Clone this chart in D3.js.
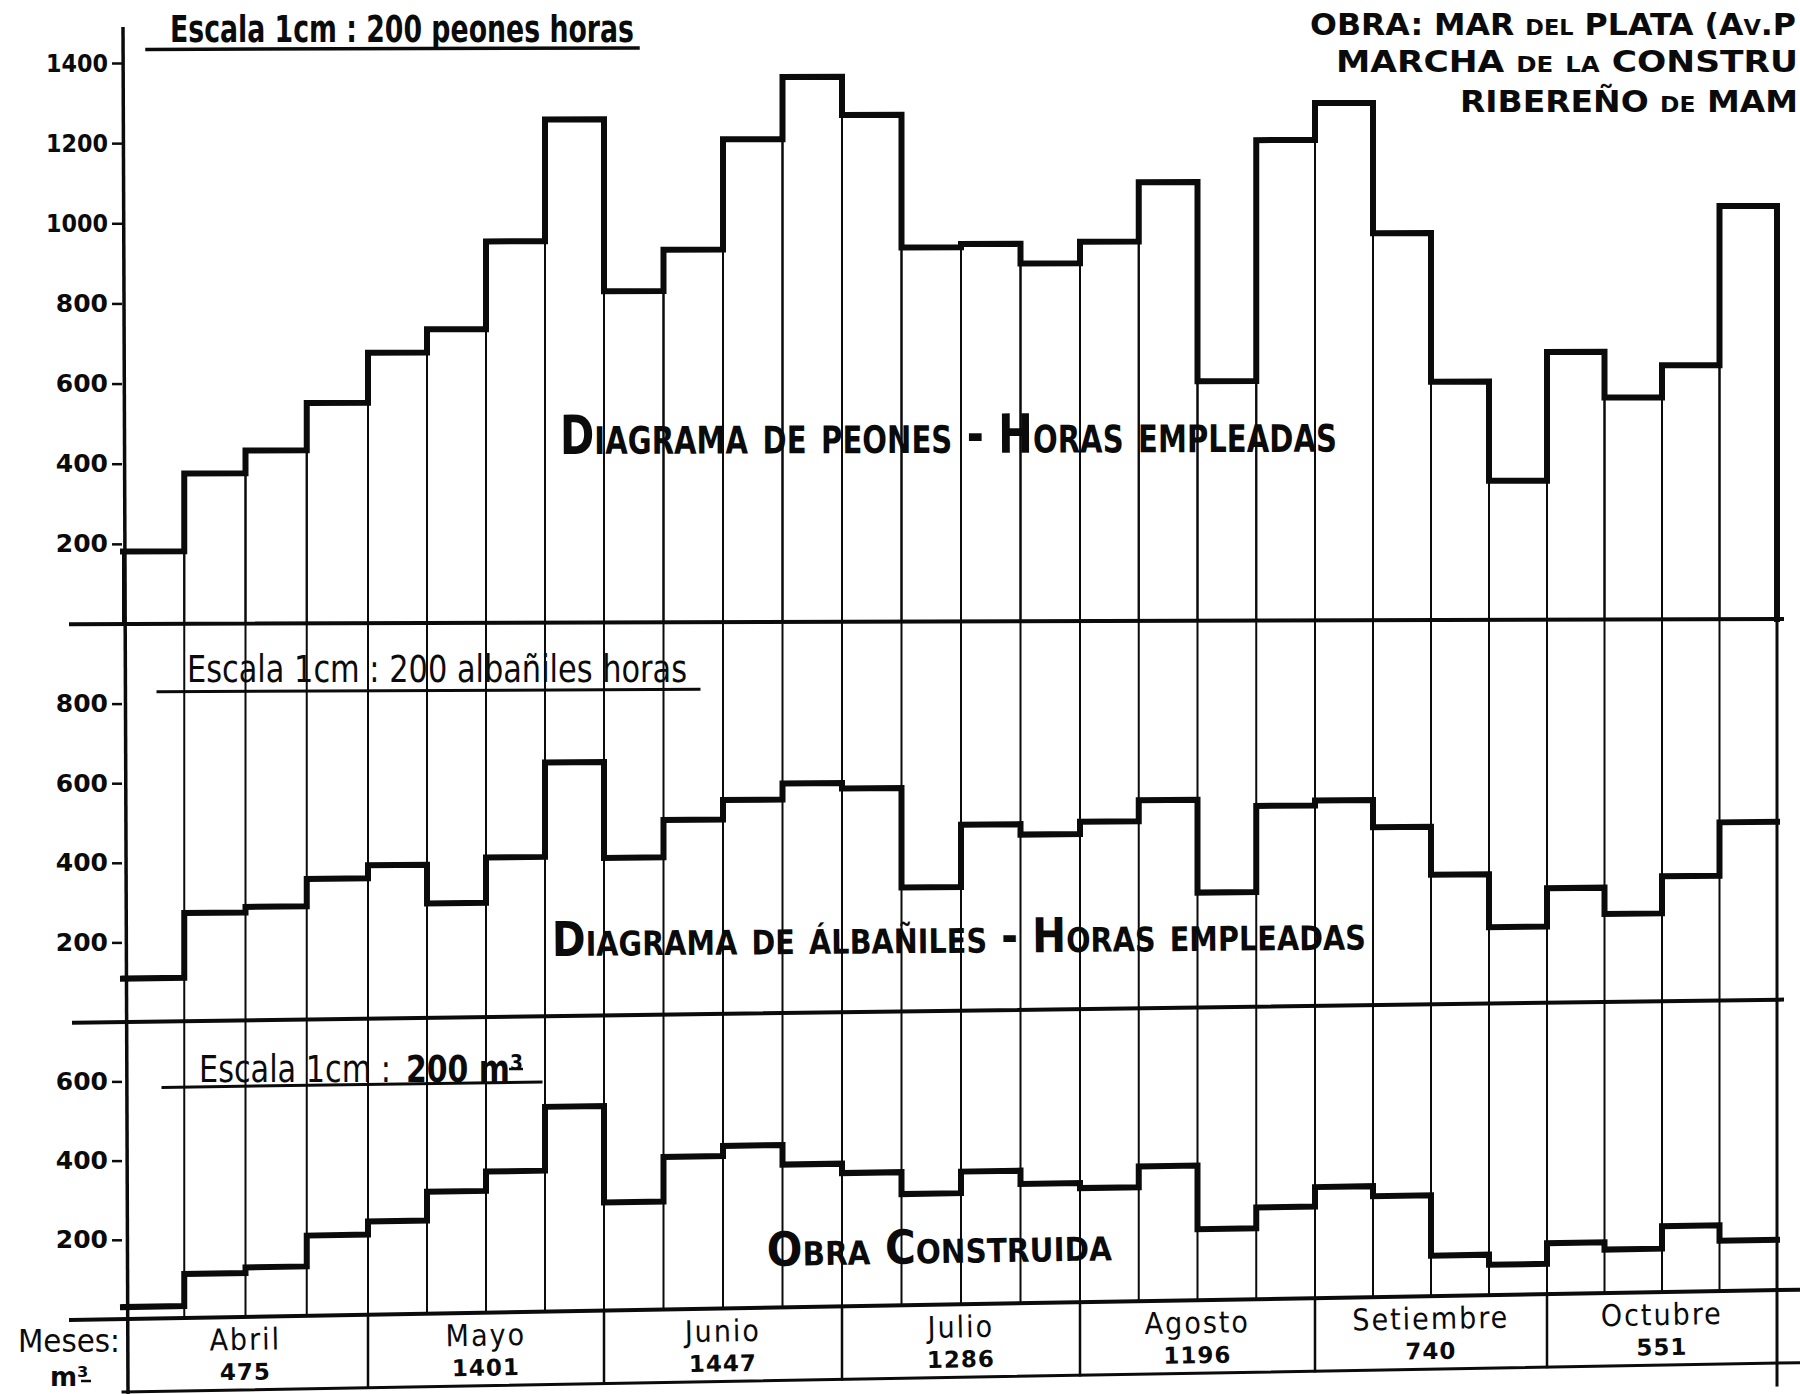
<!DOCTYPE html>
<html>
<head>
<meta charset="utf-8">
<script src="https://cdn.jsdelivr.net/npm/d3@7/dist/d3.min.js"></script>
<style>
  html, body { margin:0; padding:0; background:#fff; }
  svg { display:block; background:#fff; }
</style>
</head>
<body>
<svg id="chart" width="1800" height="1394" viewBox="0 0 1800 1394"></svg>
<script>
// ---------------- data ----------------
const months = ["Abril", "Mayo", "Junio", "Julio", "Agosto", "Setiembre", "Octubre"];
const monthTotals = [475, 1401, 1447, 1286, 1196, 740, 551];

// weekly values (4 weeks per month)
const peones = [181, 375, 432, 550, 675, 733, 952, 1256,
                827, 930, 1205, 1360, 1265, 934, 942, 893,
                947, 1095, 598, 1199, 1291, 966, 595, 347,
                668, 554, 634, 1031];
const albaniles = [109, 272, 286, 355, 388, 290, 405, 645,
                   401, 496, 546, 587, 573, 318, 478, 451,
                   483, 537, 297, 520, 533, 462, 337, 199,
                   299, 230, 327, 467];
const obra = [30, 111, 125, 203, 236, 309, 358, 520,
              275, 388, 414, 364, 340, 284, 339, 305,
              292, 345, 182, 235, 285, 259, 104, 78,
              131, 112, 170, 130];

const peonesTicks = [200, 400, 600, 800, 1000, 1200, 1400];
const albanilesTicks = [200, 400, 600, 800];
const obraTicks = [200, 400, 600];

// texts (lower case letters are shown as small capitals, as in the original lettering)
const titleLines = ["OBRA: MAR del PLATA (Av.P", "MARCHA de la CONSTRU", "RIBEREÑO de MAM"];
const peonesLabel = "Diagrama de peones - Horas empleadas";
const albanilesLabel = "Diagrama de álbañiles - Horas empleadas";
const obraLabel = "Obra Construida";

// ---------------- setup ----------------
const svg = d3.select("#chart");
const INK = "#0b0b0b";
const X0 = 123;
const N = peones.length;

const x = d3.scaleLinear()
  .domain([0, 4, 8, 12, 16, 20, 24, 28])
  .range([123, 368, 604, 842, 1080, 1315, 1547, 1777]);
const yP = d3.scaleLinear().domain([0, 1400]).range([624, 63]);
const yA = d3.scaleLinear().domain([0, 1000]).range([1022, 624]);
const yO = d3.scaleLinear().domain([0, 750]).range([1319, 1022]);
const ROW_BOTTOM = 1392;

// slight tilt of the scanned sheet (drifts upward to the right, more at the bottom)
const slope = d3.scaleLinear()
  .domain([0, 622, 1022, 1319, 1394])
  .range([-0.003, -0.003, -0.0135, -0.0175, -0.0175])
  .clamp(true);
const W = (px, py) => [px, py + slope(py) * (px - X0)];
const lineGen = d3.line();

function drawPath(g, pts, w, close) {
  return g.append("path")
    .attr("d", lineGen(pts.map(p => W(p[0], p[1]))) + (close ? "Z" : ""))
    .attr("fill", "none")
    .attr("stroke", INK)
    .attr("stroke-width", w)
    .attr("stroke-linejoin", "miter")
    .attr("stroke-linecap", "square");
}
function stepPts(vals, y) {
  const pts = [];
  vals.forEach((v, i) => { pts.push([x(i), y(v)]); pts.push([x(i + 1), y(v)]); });
  return pts;
}

// ---------------- top panel: peones ----------------
const gTop = svg.append("g");
peones.forEach((v, i) =>
  drawPath(gTop, [[x(i), yP(0)], [x(i), yP(v)], [x(i + 1), yP(v)], [x(i + 1), yP(0)]], 2));
drawPath(gTop, stepPts(peones, yP).concat([[x(N), yP(0)]]), 6);

// ---------------- middle panel: albañiles ----------------
const gMid = svg.append("g");
d3.range(1, N + 1).forEach(i =>
  drawPath(gMid, [[x(i), yA(1000)], [x(i), yA(0)]], i === N ? 3 : 2));
drawPath(gMid, stepPts(albaniles, yA), 6);

// ---------------- bottom panel: obra construida ----------------
const gBot = svg.append("g");
d3.range(1, N + 1).forEach(i =>
  drawPath(gBot, [[x(i), yO(750)], [x(i), yO(0)]], i === N ? 3 : 2));
drawPath(gBot, stepPts(obra, yO), 6);

// month row separators
months.forEach((m, k) => {
  const i = 4 * k + 4;
  drawPath(gBot, [[x(i), yO(0)], [x(i), i === N ? ROW_BOTTOM + 22 : ROW_BOTTOM]], i === N ? 3 : 2.5);
});

// horizontal rules
drawPath(svg, [[71, yP(0)], [1782, yP(0)]], 4);
drawPath(svg, [[74, yA(0)], [1782, yA(0)]], 4);
drawPath(svg, [[71, yO(0)], [1800, yO(0)]], 4);
drawPath(svg, [[X0, ROW_BOTTOM], [1800, ROW_BOTTOM]], 3);

// vertical axis
svg.append("line")
  .attr("x1", 123).attr("y1", 27).attr("x2", 128).attr("y2", 1394)
  .attr("stroke", INK).attr("stroke-width", 3.5);

// ---------------- axes (ticks + labels) ----------------
function yAxis(scale, ticks) {
  const g = svg.append("g")
    .attr("transform", `translate(${X0 - 1},0)`)
    .call(d3.axisLeft(scale).tickValues(ticks).tickSize(10).tickPadding(4).tickFormat(d3.format("d")));
  g.select(".domain").remove();
  g.attr("font-family", "'DejaVu Sans', sans-serif").attr("font-size", 25).attr("font-weight", "bold");
  g.selectAll(".tick line").attr("stroke", INK).attr("stroke-width", 2.5);
  g.selectAll(".tick text").attr("fill", INK);
  g.selectAll(".tick text").filter(d => d >= 1000)
    .attr("textLength", 62).attr("lengthAdjust", "spacingAndGlyphs");
}
yAxis(yP, peonesTicks);
yAxis(yA, albanilesTicks);
yAxis(yO, obraTicks);

// ---------------- scale captions ----------------
const NARROW = "'Liberation Sans Narrow', 'DejaVu Sans Condensed', 'Roboto', sans-serif";
function caption(str, tx, ty, size, len, weight) {
  return svg.append("text")
    .attr("x", tx).attr("y", ty)
    .attr("font-family", NARROW).attr("font-size", size)
    .attr("font-weight", weight || "normal")
    .attr("fill", INK)
    .attr("textLength", len).attr("lengthAdjust", "spacingAndGlyphs")
    .text(str);
}
caption("Escala 1cm : 200 peones horas", 170, 42, 38, 464, "bold");
drawPath(svg, [[147, 49.5], [638, 49.5]], 3.5);

caption("Escala 1cm : 200 albañiles horas", 187, 682, 37, 500);
drawPath(svg, [[158, 692], [699, 692]], 3);

caption("Escala 1cm :", 199, 1082, 37, 192, "normal");
caption("200 m³", 406, 1082, 37, 117, "bold");
svg.append("line").attr("x1", 509).attr("x2", 523).attr("y1", 1069).attr("y2", 1069)
  .attr("stroke", INK).attr("stroke-width", 2.5);
drawPath(svg, [[163, 1088], [541, 1088]], 3);

// ---------------- panel labels (small capitals) ----------------
function scLabel(str, tx, ty, size, len, rot) {
  return svg.append("text")
    .attr("x", tx).attr("y", ty)
    .attr("transform", `rotate(${rot},${tx},${ty})`)
    .attr("font-family", "'DejaVu Sans Condensed', 'DejaVu Sans', sans-serif")
    .attr("font-weight", "bold")
    .style("font-variant", "small-caps")
    .attr("font-size", size)
    .attr("fill", INK)
    .attr("textLength", len).attr("lengthAdjust", "spacingAndGlyphs")
    .text(str);
}
scLabel(peonesLabel, 560, 454, 54, 777, -0.17);
scLabel(albanilesLabel, 552, 956, 48, 814, -0.45);
scLabel(obraLabel, 767, 1266, 47, 345, -0.95);

// ---------------- title (top right) ----------------
const titlePos = [[1310, 35, 486], [1336, 72, 462], [1460, 112, 338]];
titleLines.forEach((str, li) => {
  const [tx, ty, len] = titlePos[li];
  svg.append("text")
    .attr("x", tx).attr("y", ty)
    .attr("font-family", "'DejaVu Sans', sans-serif")
    .attr("font-weight", "bold")
    .style("font-variant", "small-caps")
    .attr("font-size", 31)
    .attr("fill", INK)
    .attr("textLength", len).attr("lengthAdjust", "spacingAndGlyphs")
    .text(str);
});

// ---------------- month row ----------------
svg.append("text").attr("x", 18).attr("y", 1352)
  .attr("font-family", "'DejaVu Sans Condensed', 'DejaVu Sans', sans-serif")
  .attr("font-size", 32).attr("fill", INK)
  .attr("textLength", 102).attr("lengthAdjust", "spacingAndGlyphs")
  .text("Meses:");
svg.append("text").attr("x", 50).attr("y", 1386)
  .attr("font-family", "'DejaVu Sans', sans-serif").attr("font-weight", "bold")
  .attr("font-size", 26).attr("fill", INK)
  .text("m³");
svg.append("line").attr("x1", 81).attr("x2", 91).attr("y1", 1381).attr("y2", 1381)
  .attr("stroke", INK).attr("stroke-width", 2.5);

months.forEach((m, k) => {
  const cx = (x(4 * k) + x(4 * k + 4)) / 2;
  const [nx, ny] = W(cx, 1352);
  svg.append("text")
    .attr("x", nx).attr("y", ny)
    .attr("transform", `rotate(-1,${nx},${ny})`)
    .attr("text-anchor", "middle")
    .attr("font-family", "'DejaVu Sans Condensed', 'DejaVu Sans', sans-serif")
    .attr("font-size", 30).attr("letter-spacing", 2).attr("fill", INK)
    .text(m);
  const [vx, vy] = W(cx, 1382);
  svg.append("text")
    .attr("x", vx).attr("y", vy)
    .attr("transform", `rotate(-1,${vx},${vy})`)
    .attr("text-anchor", "middle")
    .attr("font-family", "'DejaVu Sans', sans-serif")
    .attr("font-weight", "bold")
    .attr("font-size", 23).attr("letter-spacing", 1).attr("fill", INK)
    .text(monthTotals[k]);
});
</script>
</body>
</html>
